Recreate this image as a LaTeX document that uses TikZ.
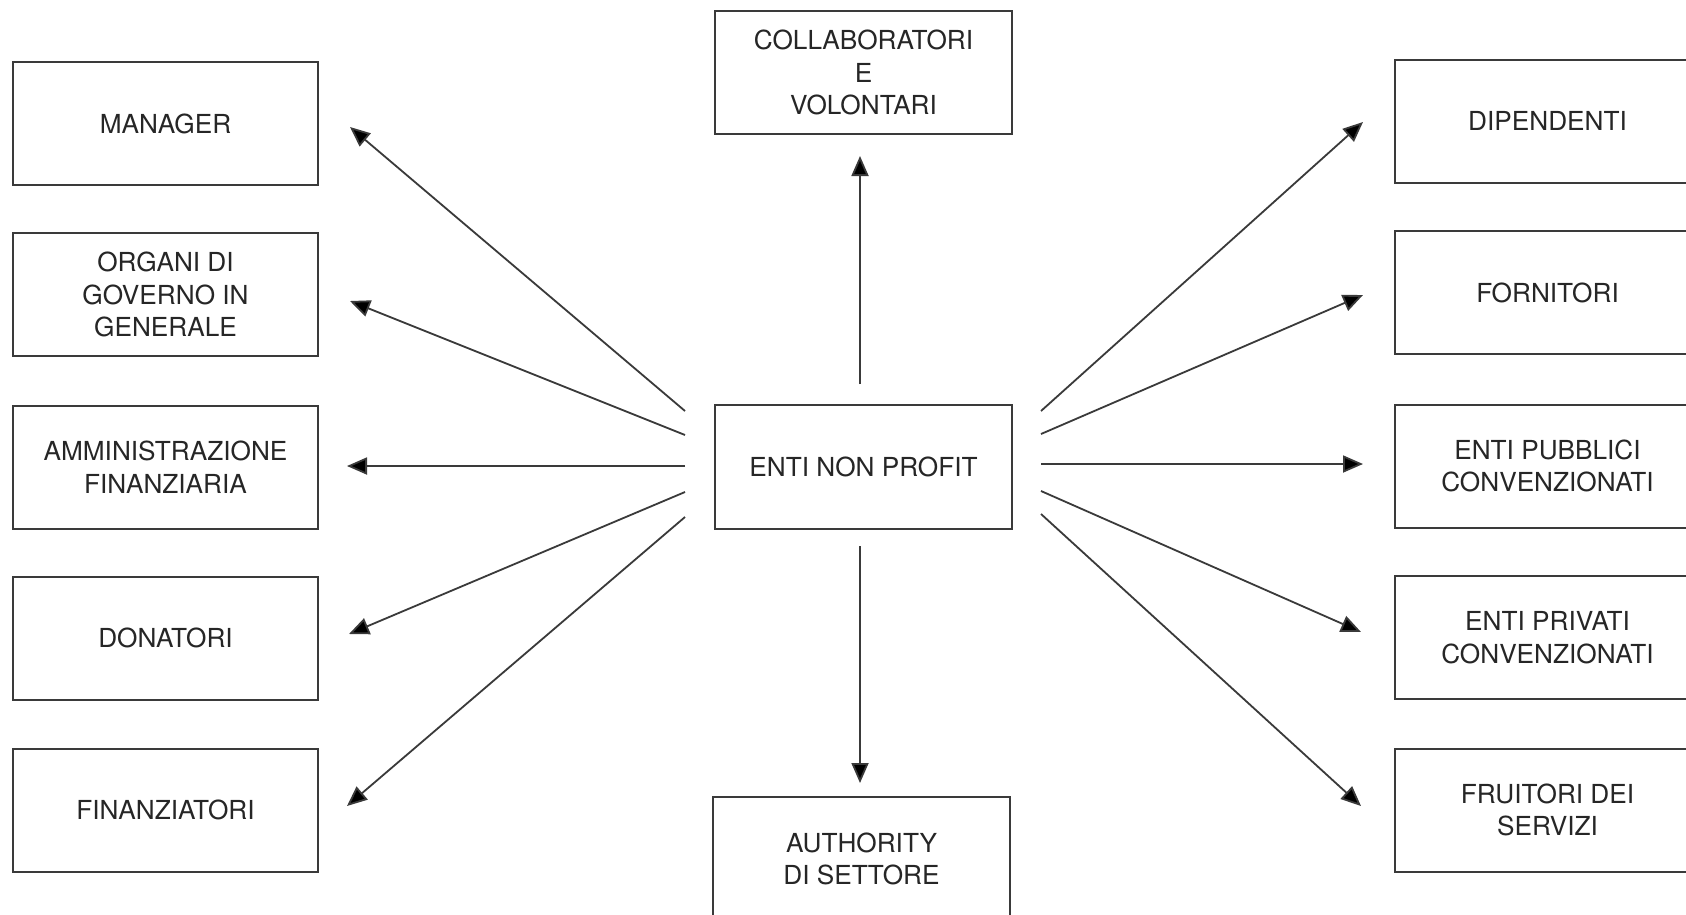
\documentclass[tikz,border=0pt]{standalone}
\usepackage{fontspec}
\setmainfont{TeX Gyre Heros}
\usetikzlibrary{arrows.meta}
\definecolor{ink}{HTML}{262626}
\definecolor{edge}{HTML}{3A3A3A}
\begin{document}
\begin{tikzpicture}[x=1pt,y=-1pt,
  boxstyle/.style={draw=edge, line width=2pt, minimum width=305pt, minimum height=123pt,
    inner sep=0pt, align=center, text=ink,
    font=\fontsize{26.2pt}{32.5pt}\selectfont},
  arr/.style={draw=edge, line width=1.8pt, -{Triangle[length=20pt,width=17pt,fill=black]}}]
\useasboundingbox (0,0) rectangle (1686,914);
\fill[white] (0,0) rectangle (1686,914);
\begin{scope}
\clip (0,0) rectangle (1686,914);
% left column
\node[boxstyle] (man) at (165.5,123.5) {MANAGER};
\node[boxstyle] (org) at (165.5,294.5) {ORGANI DI\\GOVERNO IN\\GENERALE};
\node[boxstyle] (amm) at (165.5,467) {AMMINISTRAZIONE\\FINANZIARIA};
\node[boxstyle] (don) at (165.5,638) {DONATORI};
\node[boxstyle] (fin) at (165.5,810) {FINANZIATORI};
% centre column
\node[boxstyle, minimum width=297pt] (col) at (863.5,72.5) {COLLABORATORI\\E\\VOLONTARI};
\node[boxstyle, minimum width=297pt, minimum height=124pt] (enp) at (863.5,467) {ENTI NON PROFIT};
\node[boxstyle, minimum width=297pt, minimum height=124pt] (aut) at (861.5,859) {AUTHORITY\\DI SETTORE};
% right column
\node[boxstyle] (dip) at (1547.5,121) {DIPENDENTI};
\node[boxstyle] (for) at (1547.5,292.5) {FORNITORI};
\node[boxstyle] (pub) at (1547.5,466) {ENTI PUBBLICI\\CONVENZIONATI};
\node[boxstyle] (pri) at (1547.5,637.5) {ENTI PRIVATI\\CONVENZIONATI};
\node[boxstyle] (fru) at (1547.5,810) {FRUITORI DEI\\SERVIZI};
% connector ends
\coordinate (l1s) at (685,411); \coordinate (l1e) at (350,127);
\coordinate (l2s) at (685,435); \coordinate (l2e) at (350,301);
\coordinate (l3s) at (685,466); \coordinate (l3e) at (347,466);
\coordinate (l4s) at (685,492); \coordinate (l4e) at (349,634);
\coordinate (l5s) at (685,517); \coordinate (l5e) at (347,806);
\coordinate (r1s) at (1041,411); \coordinate (r1e) at (1363,122);
\coordinate (r2s) at (1041,434); \coordinate (r2e) at (1363,295);
\coordinate (r3s) at (1041,464); \coordinate (r3e) at (1363,464);
\coordinate (r4s) at (1041,491); \coordinate (r4e) at (1361,632);
\coordinate (r5s) at (1041,514); \coordinate (r5e) at (1361,806);
\coordinate (us) at (860,384); \coordinate (ue) at (860,156);
\coordinate (ds) at (860,546); \coordinate (de) at (860,783);
\foreach \a in {l1,l2,l3,l4,l5,r1,r2,r3,r4,r5}{
  \draw[arr] (\a s) -- (\a e);
}
\draw[arr] (us) -- (ue);
\draw[arr] (ds) -- (de);
\end{scope}
\end{tikzpicture}
\end{document}
